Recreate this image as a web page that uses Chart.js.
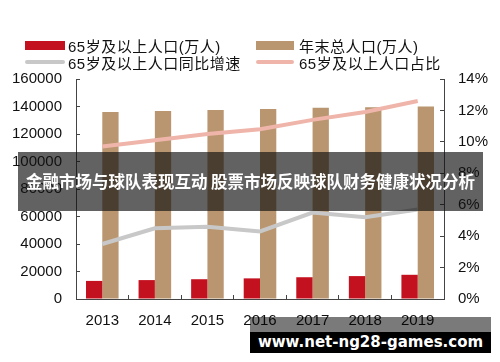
<!DOCTYPE html>
<html>
<head>
<meta charset="utf-8">
<script src="https://cdn.jsdelivr.net/npm/chart.js@4"></script>
<style>
  body { margin: 0; background: #fff; }
  #wrap { position: relative; width: 500px; height: 362px; overflow: hidden; }
  #chart { position: absolute; left: 0; top: 0; }
  .leg { position: absolute; font: 15px "Liberation Sans", "Noto Sans CJK SC", sans-serif; color: #111; white-space: nowrap; letter-spacing: 0.5px; }
  .sw { position: absolute; }
  #banner { position: absolute; left: 18px; top: 152px; width: 465px; height: 59px; background: rgba(16,16,16,0.66);
    color: #fff; font: bold 16.5px "Noto Sans CJK SC", sans-serif; line-height: 59px; text-align: center; white-space: nowrap; }
  #wm1 { position: absolute; left: 250px; top: 317px; width: 241px; height: 15px; background: rgba(0,0,0,0.52); }
  #wm2 { position: absolute; left: 250px; top: 332px; width: 241px; height: 21px; background: #000;
    color: #fff; font: bold 15px "DejaVu Sans", sans-serif; line-height: 21px; text-align: center; }
</style>
</head>
<body>
<div id="wrap">
  <canvas id="chart" width="500" height="362"></canvas>
  <div id="legend"></div>
  <div id="banner">金融市场与球队表现互动 股票市场反映球队财务健康状况分析</div>
  <div id="wm1"></div>
  <div id="wm2">www.net-ng28-games.com</div>
</div>
<script>
// data
const years = ["2013", "2014", "2015", "2016", "2017", "2018", "2019"];
const elderly = [13161, 13755, 14386, 15003, 15831, 16658, 17603];
const totalPop = [136072, 136782, 137462, 138271, 139008, 139538, 140005];
const elderlyGrowth = [3.5, 4.5, 4.6, 4.3, 5.5, 5.2, 5.7];
const elderlyShare = [9.7, 10.1, 10.5, 10.8, 11.4, 11.9, 12.6];
const seriesNames = ["65岁及以上人口(万人)", "年末总人口(万人)", "65岁及以上人口同比增速", "65岁及以上人口占比"];
const colors = ["#c3111f", "#b9966f", "#c8c8c8", "#efb5aa"];

// legend (html, 2x2)
const legendPos = [
  { x: 25, y: 45, kind: "box" },
  { x: 256, y: 45, kind: "box" },
  { x: 25, y: 62, kind: "line" },
  { x: 256, y: 62, kind: "line" }
];
const leg = document.getElementById("legend");
seriesNames.forEach((name, i) => {
  const p = legendPos[i];
  const sw = document.createElement("div");
  sw.className = "sw";
  sw.style.left = p.x + "px";
  sw.style.width = (i % 2 ? 38 : 40) + "px";
  sw.style.background = colors[i];
  if (p.kind === "box") { sw.style.top = (p.y - 4) + "px"; sw.style.height = "9px"; }
  else { sw.style.top = (p.y - 2) + "px"; sw.style.height = "4px"; sw.style.borderRadius = "2px"; }
  leg.appendChild(sw);
  const t = document.createElement("div");
  t.className = "leg";
  t.textContent = name;
  t.style.left = (p.x + 43) + "px";
  t.style.top = (p.y - 10) + "px";
  leg.appendChild(t);
});

const tickFont = { family: "Liberation Sans", size: 15 };
const axisColor = "#444";

new Chart(document.getElementById("chart"), {
  type: "bar",
  data: {
    labels: years,
    datasets: [
      { type: "line", label: seriesNames[2], data: elderlyGrowth, yAxisID: "y1",
        borderColor: colors[2], borderWidth: 4, pointRadius: 0, tension: 0, order: 1 },
      { type: "line", label: seriesNames[3], data: elderlyShare, yAxisID: "y1",
        borderColor: colors[3], borderWidth: 4, pointRadius: 0, tension: 0, order: 1 },
      { label: seriesNames[0], data: elderly, yAxisID: "y", backgroundColor: colors[0],
        barPercentage: 1, categoryPercentage: 0.62, order: 2 },
      { label: seriesNames[1], data: totalPop, yAxisID: "y", backgroundColor: colors[1],
        barPercentage: 1, categoryPercentage: 0.62, order: 2 }
    ]
  },
  options: {
    responsive: false,
    animation: false,
    layout: { padding: { top: 79, left: 0, right: 0, bottom: 0 } },
    plugins: { legend: { display: false }, tooltip: { enabled: false } },
    scales: {
      x: {
        grid: { offset: true, drawOnChartArea: false, drawTicks: true, tickLength: -4, color: axisColor },
        border: { display: true, color: axisColor },
        ticks: { font: tickFont, color: "#111", padding: 17, maxRotation: 0 },
        afterFit: s => { s.height = 63; }
      },
      y: {
        position: "left", min: 0, max: 160000,
        grid: { drawOnChartArea: false, drawTicks: true, tickLength: -4, color: axisColor },
        border: { display: true, color: axisColor },
        ticks: { stepSize: 20000, font: tickFont, color: "#111", padding: 18, callback: v => String(v) },
        afterFit: s => { s.width = 76; }
      },
      y1: {
        position: "right", min: 0, max: 14,
        grid: { drawOnChartArea: false, drawTicks: true, tickLength: -4, color: axisColor },
        border: { display: true, color: axisColor },
        ticks: { stepSize: 2, font: tickFont, color: "#111", padding: 18, callback: v => v + "%" },
        afterFit: s => { s.width = 56; }
      }
    }
  }
});
</script>
</body>
</html>
